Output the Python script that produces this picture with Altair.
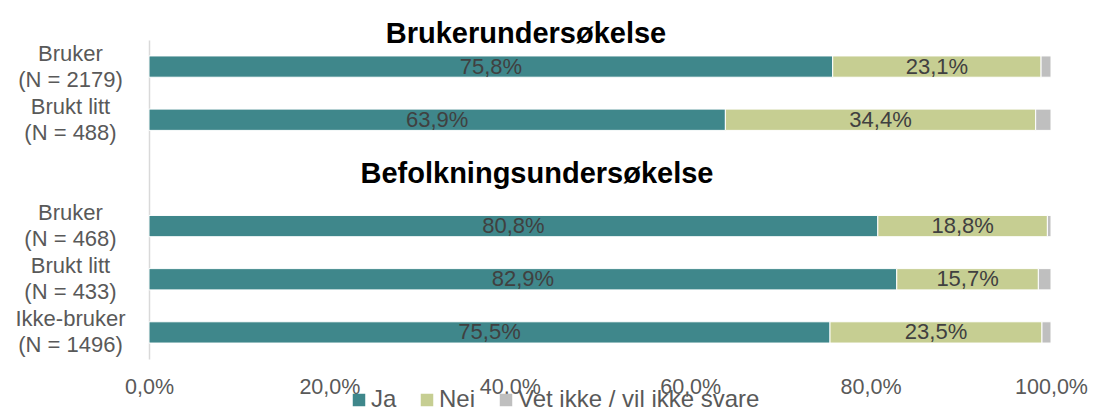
import altair as alt
import pandas as pd

FONT = "Liberation Sans"

rows = ["Bruker|(N = 2179)", "Brukt litt|(N = 488)", "Bruker|(N = 468)",
        "Brukt litt|(N = 433)", "Ikke-bruker|(N = 1496)"]
order = ["Bruker|(N = 2179)", "Brukt litt|(N = 488)", "gap",
         "Bruker|(N = 468)", "Brukt litt|(N = 433)", "Ikke-bruker|(N = 1496)"]
series = ["Ja", "Nei", "Vet ikke / vil ikke svare"]
colors = ["#3F878B", "#C6CE92", "#BFBFBF"]
ja = [75.8, 63.9, 80.8, 82.9, 75.5]
nei = [23.1, 34.4, 18.8, 15.7, 23.5]
vet = [1.1, 1.7, 0.4, 1.4, 1.0]
x_ticks = [0, 0.2, 0.4, 0.6, 0.8, 1.0]
section_titles = ["Brukerundersøkelse", "Befolkningsundersøkelse"]

recs = []
for i, r in enumerate(rows):
    start = 0.0
    for s, v in zip(series, [ja[i], nei[i], vet[i]]):
        end = start + v / 100
        recs.append({
            "row": r, "series": s, "start": start, "end": end,
            "mid": (start + end) / 2,
            "label": f"{v:.1f}%".replace(".", ","),
        })
        start = end
df = pd.DataFrame(recs)

yenc = alt.Y("row:N", sort=order,
             scale=alt.Scale(domain=order, paddingInner=0.6, paddingOuter=0.3),
             axis=alt.Axis(title=None,
                           labelExpr="datum.value == 'gap' ? '' : split(datum.value, '|')",
                           labelAlign="center", labelPadding=79, ticks=False, tickSize=0,
                           labelOffset=-13,
                           domain=True, domainColor="#d9d9d9", domainWidth=1.5,
                           labelFontSize=22, labelColor="#595959", labelLineHeight=26,
                           labelFont=FONT, grid=False))

xscale = alt.Scale(domain=[0, 1], nice=False)
xaxis = alt.Axis(values=x_ticks, title=None,
                 labelExpr="replace(format(datum.value, '.1%'), '.', ',')",
                 domain=False, ticks=False, grid=False, labelFlush=False,
                 labelOverlap=False, labelPadding=17, labelFontSize=21.5,
                 labelColor="#595959", labelFont=FONT)

bars = alt.Chart(df).mark_bar(stroke="white", strokeWidth=1).encode(
    y=yenc,
    x=alt.X("start:Q", scale=xscale, axis=xaxis),
    x2="end:Q",
    color=alt.Color("series:N", sort=series,
                    scale=alt.Scale(domain=series, range=colors),
                    legend=alt.Legend(title=None, orient="none", legendX=198, legendY=348,
                                      direction="horizontal", symbolType="square",
                                      symbolSize=156, symbolStrokeWidth=0,
                                      labelFontSize=24, labelColor="#595959",
                                      labelFont=FONT, columnPadding=18, labelLimit=0,
                                      labelOffset=0, padding=0)),
)

text = alt.Chart(df[df["series"] != series[2]]).mark_text(
    fontSize=22, color="#404040", font=FONT
).encode(
    y=alt.Y("row:N", sort=order),
    x=alt.X("mid:Q"),
    text="label:N",
)

t1 = alt.Chart(pd.DataFrame({"t": [section_titles[0]]})).mark_text(
    fontSize=29, fontWeight="bold", color="black", font=FONT, baseline="alphabetic"
).encode(text="t:N", x=alt.value(377), y=alt.value(3))

t2 = alt.Chart(pd.DataFrame({"t": [section_titles[1]]})).mark_text(
    fontSize=29, fontWeight="bold", color="black", font=FONT, baseline="alphabetic"
).encode(text="t:N", x=alt.value(388), y=alt.value(143))

chart = alt.layer(bars, text, t1, t2).properties(
    width=902, height=319,
    autosize=alt.AutoSizeParams(type="none"),
    padding={"left": 141, "top": 32, "right": 37, "bottom": 53},
).configure_view(stroke=None)

chart.save("out.html", embed_options={"renderer": "svg", "actions": False})
